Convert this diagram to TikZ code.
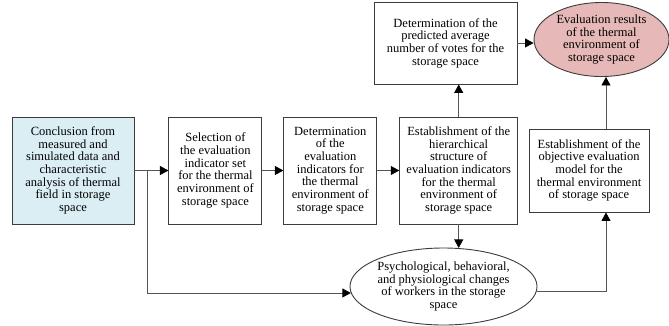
\documentclass[tikz,border=0pt]{standalone}
\usepackage{fontspec}
\setmainfont{Liberation Serif}
\usetikzlibrary{arrows.meta,positioning,shapes.geometric}
\definecolor{tblue}{RGB}{218,238,243}
\definecolor{tred}{RGB}{230,184,183}
\definecolor{tline}{RGB}{60,60,60}
\definecolor{tgray}{RGB}{85,85,85}

\begin{document}
\begin{tikzpicture}[x=1pt,y=-1pt,
  font=\fontsize{12.5}{12.7}\selectfont,
  box/.style={draw=tline,line width=0.9pt,align=center,inner sep=1pt,
              minimum height=107pt},
  bbox/.style={box,fill=tblue},
  oval/.style={ellipse,draw=tline,line width=0.9pt,align=center,inner sep=0pt},
  arr/.style={-{Triangle[length=8.5pt,width=9pt,color=black]},line width=0.9pt,draw=tgray},
  ]
  \useasboundingbox (0,0) rectangle (669,325);
  \node[bbox,minimum width=122pt] (concl) at (73,170.5)
    {Conclusion from\\measured and\\simulated data and\\characteristic\\analysis of thermal\\field in storage\\space};
  \node[box,minimum width=93pt,right=34pt of concl] (select)
    {Selection of\\the evaluation\\indicator set\\for the thermal\\environment of\\storage space};
  \node[box,minimum width=93pt,right=21pt of select] (determ)
    {Determination\\of the\\evaluation\\indicators for\\the thermal\\environment of\\storage space};
  \node[box,minimum width=118pt,right=22pt of determ] (hier)
    {Establishment of the\\hierarchical\\structure of\\evaluation indicators\\for the thermal\\environment of\\storage space};
  \node[box,minimum width=143pt,minimum height=82pt] (pmv) at (445.5,43)
    {Determination of the\\predicted average\\number of votes for the\\storage space};
  \node[oval,fill=tred,minimum width=135pt,minimum height=74pt] (result) at (601.5,39.5)
    {Evaluation results\\of the thermal\\environment of\\storage space};
  \node[box,minimum width=120pt,minimum height=83pt] (model) at (589,170.5)
    {Establishment of the\\objective evaluation\\model for the\\thermal environment\\of storage space};
  \node[oval,minimum width=177pt,minimum height=77pt] (psych) at (443.5,286.5)
    {Psychological, behavioral,\\and physiological changes\\of workers in the storage\\space};

  \coordinate (split) at (147,170.5);
  \draw[arr] (concl) -- (select);
  \draw[arr] (select) -- (determ);
  \draw[arr] (determ) -- (hier);
  \draw[arr] (split) |- (psych.184);
  \draw[arr] (hier.north) -- (hier.north |- pmv.south);
  \draw[arr] (hier.south) -- (hier.south |- psych.70);
  \draw[arr] (pmv) -- (pmv.east -| result.west);
  \draw[arr] (psych.357) -| ([xshift=17pt]model.south);
  \draw[arr] ([xshift=17pt]model.north) -- ([xshift=17pt]model.north |- result.south);
\end{tikzpicture}
\end{document}
